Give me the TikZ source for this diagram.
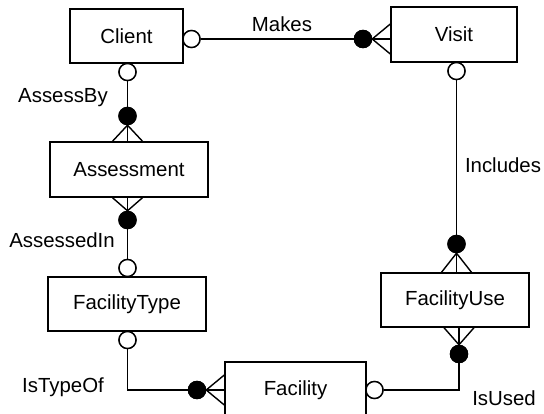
\documentclass[tikz,border=0pt]{standalone}
\usepackage{fontspec}
\setmainfont{Liberation Sans}
\begin{document}
\begin{tikzpicture}[x=1pt,y=-1pt,
  ent/.style={draw,line width=1.4pt,fill=white,inner sep=0pt,font=\fontsize{20.4}{24}\selectfont},
  ocirc/.style={circle,draw,line width=1.4pt,fill=white,inner sep=0pt,minimum size=17pt},
  fcirc/.style={circle,draw,line width=1.4pt,fill=black,inner sep=0pt,minimum size=17pt},
  conn/.style={line width=1.4pt},
  lbl/.style={inner sep=0pt,font=\fontsize{20.4}{24}\selectfont}]
\clip (0,0) rectangle (544,414);
\fill[white] (0,0) rectangle (544,414);
% entities
\node[ent,minimum width=113pt,minimum height=54pt] (client) at (126.5,36) {Client};
\node[ent,minimum width=126pt,minimum height=55pt] (visit) at (454,34.5) {Visit};
\node[ent,minimum width=158pt,minimum height=55pt] (assess) at (129,169.5) {Assessment};
\node[ent,minimum width=158pt,minimum height=54pt] (ftype) at (127,304) {FacilityType};
\node[ent,minimum width=141pt,minimum height=56pt] (fac) at (295.5,390) {Facility};
\node[ent,minimum width=148pt,minimum height=54pt] (fuse) at (455,300) {FacilityUse};
% Makes
\node[ocirc] (m1) at (191.5,39) {};
\node[fcirc] (m2) at (363,39) {};
\draw[conn] (m1) -- (m2);
\foreach \d in {-15,0,15}
  \draw[conn] (m2.east) -- ([yshift=\d pt]visit.west |- m2);
% AssessBy
\node[ocirc] (a1) at (127.5,72) {};
\node[fcirc] (a2) at (127.5,116) {};
\draw[conn] (a1) -- (a2);
\foreach \d in {-15,0,15}
  \draw[conn] (a2.south) -- ([xshift=\d pt]a2.south |- assess.north);
% AssessedIn
\node[fcirc] (b1) at (127.5,220) {};
\node[ocirc] (b2) at (127.5,268) {};
\draw[conn] (b1) -- (b2);
\foreach \d in {-15,0,15}
  \draw[conn] (b1.north) -- ([xshift=\d pt]b1.north |- assess.south);
% IsTypeOf
\node[ocirc] (t1) at (127.5,340) {};
\node[fcirc] (t2) at (197,390) {};
\coordinate (tc) at (127.5,390);
\draw[conn] (t1) -- (tc) -- (t2);
\foreach \d in {-15,0,15}
  \draw[conn] (t2.east) -- ([yshift=\d pt]fac.west |- t2);
% IsUsed
\node[ocirc] (u1) at (374.5,390) {};
\node[fcirc] (u2) at (459,354) {};
\coordinate (uc) at (459,390);
\draw[conn] (u1) -- (uc) -- (u2);
\foreach \d in {-15,0,15}
  \draw[conn] (u2.north) -- ([xshift=\d pt]u2.north |- fuse.south);
% Includes
\node[ocirc] (i1) at (456.5,71) {};
\node[fcirc] (i2) at (456.5,244) {};
\draw[conn] (i1) -- (i2);
\foreach \d in {-15,0,15}
  \draw[conn] (i2.south) -- ([xshift=\d pt]i2.south |- fuse.north);
% redraw circles on top
\foreach \n in {m1,a1,b2,t1,u1,i1}
  \node[ocirc] at (\n) {};
\foreach \n in {m2,a2,b1,t2,u2,i2}
  \node[fcirc] at (\n) {};
% labels
\node[lbl] (lmakes) at (282,24) {Makes};
\node[lbl] (lassessby) at (63,98) {AssessBy};
\node[lbl] (lincl) at (503,165) {Includes};
\node[lbl] (lassin) at (62,240) {AssessedIn};
\node[lbl] (ltype) at (63,387) {IsTypeOf};
\node[lbl] (lused) at (504,398) {IsUsed};
\end{tikzpicture}
\end{document}
